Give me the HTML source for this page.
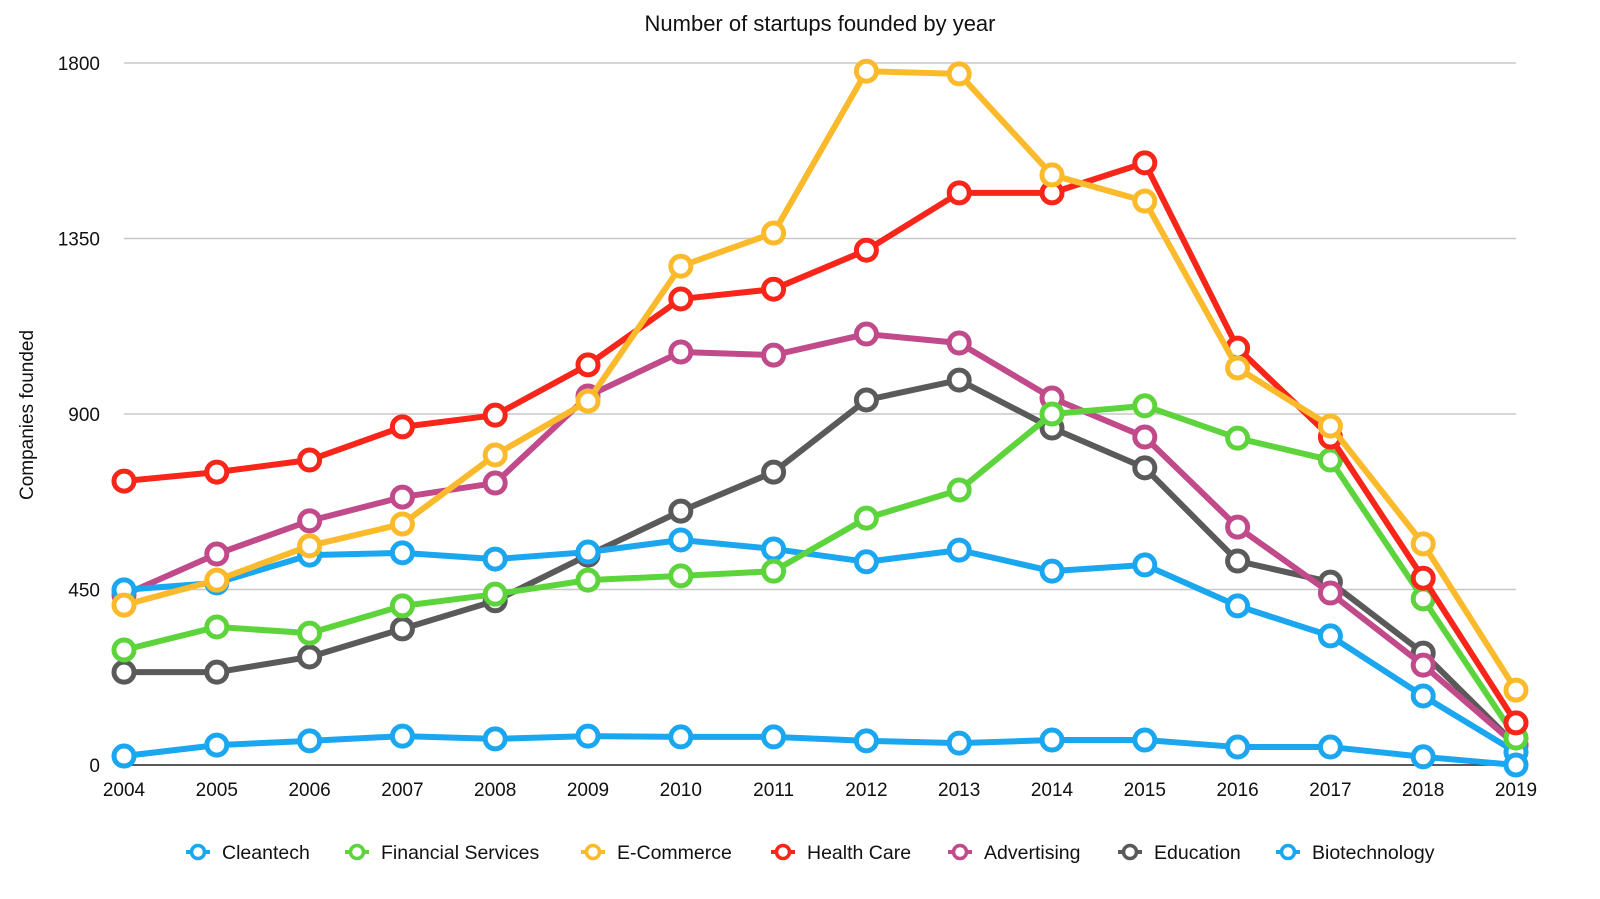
<!DOCTYPE html>
<html><head><meta charset="utf-8"><style>
html,body{margin:0;padding:0;background:#fff;}
svg{display:block;font-family:"Liberation Sans",Arial,sans-serif;}
</style></head><body>
<svg id="chart" width="1600" height="899" viewBox="0 0 1600 899">
<text x="820" y="31" text-anchor="middle" font-size="22" fill="#111">Number of startups founded by year</text>
<text transform="translate(33,415) rotate(-90)" text-anchor="middle" font-size="19" fill="#111">Companies founded</text>
<g id="grid"></g><g id="series"></g><g id="legend"></g>
</svg>
<script>
const years=[2004,2005,2006,2007,2008,2009,2010,2011,2012,2013,2014,2015,2016,2017,2018,2019];
const yTicks=[0,450,900,1350,1800];
const seriesNames=["Cleantech","Financial Services","E-Commerce","Health Care","Advertising","Education","Biotechnology"];
const seriesColors=["#1aa7f0","#5dd43c","#fbba2c","#f8261a","#c04a8a","#5a5a5a","#1aa7f0"];
const cleantech=[449,467,538,544,528,546,577,554,521,551,497,513,408,331,177,33];
const financial=[295,354,338,408,438,474,485,497,633,705,900,921,838,782,426,69];
const ecommerce=[410,474,562,618,795,933,1279,1364,1779,1772,1513,1446,1018,869,567,192];
const healthcare=[728,751,782,867,897,1026,1195,1220,1320,1467,1467,1544,1069,841,479,108];
const advertising=[436,541,626,687,723,946,1059,1051,1105,1082,941,841,610,441,256,51];
const education=[238,238,277,349,421,538,651,751,936,987,864,762,523,469,287,51];
const biotech=[23,51,62,74,67,74,72,72,62,56,64,64,46,46,21,0];
const seriesData=[cleantech,financial,ecommerce,healthcare,advertising,education,biotech];
const drawOrder=[5,4,0,1,6,3,2];

const NS="http://www.w3.org/2000/svg";
const x0=124,x1=1516,y0=765,y1=63,yMax=1800;
const xs=i=>x0+(x1-x0)*i/(years.length-1);
const ys=v=>y0-(y0-y1)*v/yMax;
function mk(t,a,p){const e=document.createElementNS(NS,t);for(const k in a)e.setAttribute(k,a[k]);p.appendChild(e);return e;}
const grid=document.getElementById('grid');
yTicks.forEach(v=>{
  const l=mk('line',{x1:x0,x2:x1,y1:ys(v),y2:ys(v),stroke:v===0?'#222':'#c8c8c8','stroke-width':v===0?1.5:1.5},grid);
  
  
  const t=mk('text',{x:100,y:ys(v)+7,'text-anchor':'end','font-size':19,fill:'#111'},grid);
  t.textContent=v;
  
  
});
years.forEach((y,i)=>{
  const t=mk('text',{x:xs(i),y:796,'text-anchor':'middle','font-size':19,fill:'#111'},grid);
  t.textContent=y;
  
  
});
const sg=document.getElementById('series');
drawOrder.forEach(s=>{
  const g=mk('g',{},sg);
  
  
  const d=seriesData[s].map((v,i)=>(i?'L':'M')+xs(i)+','+ys(v)).join('');
  const p=mk('path',{d:d,fill:'none',stroke:seriesColors[s],'stroke-width':6,'stroke-linejoin':'round'},g);
  
  
  seriesData[s].forEach((v,i)=>{
    const c=mk('circle',{cx:xs(i),cy:ys(v),r:10,fill:'#fff',stroke:seriesColors[s],'stroke-width':5},g);
    
    
  });
});
const lg=document.getElementById('legend');
const lx=[198,357,593,783,960,1130,1288];
seriesNames.forEach((n,s)=>{
  const g=mk('g',{},lg);
  
  
  mk('line',{x1:lx[s]-12,x2:lx[s]+12,y1:852,y2:852,stroke:seriesColors[s],'stroke-width':4},g);
  mk('circle',{cx:lx[s],cy:852,r:6.5,fill:'#fff',stroke:seriesColors[s],'stroke-width':3.5},g);
  const t=mk('text',{x:lx[s]+24,y:859,'font-size':19.5,fill:'#111'},g);
  t.textContent=n;
});
</script>
</body></html>
